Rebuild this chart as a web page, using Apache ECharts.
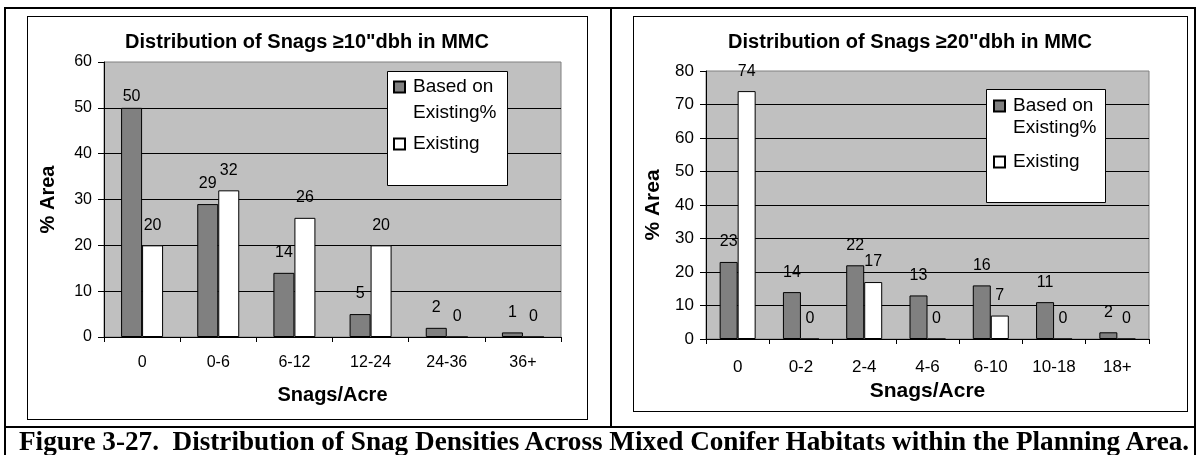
<!DOCTYPE html>
<html>
<head>
<meta charset="utf-8">
<script src="https://cdn.jsdelivr.net/npm/echarts@6/dist/echarts.min.js"></script>
<style>
  html, body { margin: 0; padding: 0; background: #fff; }
  body { width: 1198px; height: 455px; position: relative; overflow: hidden; }
  .ln { position: absolute; background: #000; }
  .frame { position: absolute; box-sizing: border-box; border: 1px solid #000; background: #fff; }
  #chart { position: absolute; left: 0; top: 0; width: 1198px; height: 455px; }
  #caption { position: absolute; left: 19px; top: 428px; font: bold 27.2px/27px "Liberation Serif", "Times New Roman", serif; white-space: nowrap; color: #000; }
</style>
</head>
<body>
<div class="ln" style="left:4px;top:7px;width:1192px;height:2px"></div>
<div class="ln" style="left:4px;top:7px;width:2px;height:448px"></div>
<div class="ln" style="left:1194px;top:7px;width:2px;height:448px"></div>
<div class="ln" style="left:610px;top:7px;width:2px;height:421px"></div>
<div class="ln" style="left:4px;top:426px;width:1192px;height:2px"></div>
<div class="frame" style="left:27px;top:16px;width:561px;height:404px"></div>
<div class="frame" style="left:633px;top:16px;width:555px;height:396px"></div>
<div id="chart"></div>
<div id="caption">Figure 3-27.&nbsp; Distribution of Snag Densities Across Mixed Conifer Habitats within the Planning Area.</div>
<script>
// ---- data ----
const titles = ['Distribution of Snags \u226510"dbh in MMC', 'Distribution of Snags \u226520"dbh in MMC'];
const seriesNames = ['Based on Existing%', 'Existing'];
const cats1 = ['0', '0-6', '6-12', '12-24', '24-36', '36+'];
const based1 = [50, 29, 14, 5, 2, 1];
const exist1 = [20, 32, 26, 20, 0, 0];
const yTicks1 = [0, 10, 20, 30, 40, 50, 60];
const cats2 = ['0', '0-2', '2-4', '4-6', '6-10', '10-18', '18+'];
const based2 = [23, 14, 22, 13, 16, 11, 2];
const exist2 = [74, 0, 17, 0, 7, 0, 0];
const yTicks2 = [0, 10, 20, 30, 40, 50, 60, 70, 80];
const yName = '% Area';
const xName = 'Snags/Acre';

// ---- chart ----
const FF = '"Liberation Sans", Arial, sans-serif';
const chart = echarts.init(document.getElementById('chart'), null, { renderer: 'canvas' });

function yAxis(idx, ticks, nameGap, nameSize) {
  return {
    type: 'value', gridIndex: idx,
    min: ticks[0], max: ticks[ticks.length - 1], interval: ticks[1] - ticks[0],
    axisLine: { show: true, lineStyle: { color: '#000', width: 1 } },
    axisTick: { show: true, length: 6, lineStyle: { color: '#000' } },
    axisLabel: { margin: 12, color: '#000', fontSize: idx === 0 ? 16 : 17, fontFamily: FF },
    splitLine: { show: true, showMaxLine: false, lineStyle: { color: '#000', width: 1 } },
    name: yName, nameLocation: 'middle', nameGap: nameGap,
    nameTextStyle: { color: '#000', fontSize: nameSize, fontWeight: 'bold', fontFamily: FF }
  };
}
function xAxis(idx, cats, margin, nameGap, nameSize) {
  return {
    type: 'category', gridIndex: idx, data: cats,
    axisLine: { show: true, lineStyle: { color: '#000', width: 1 } },
    axisTick: { show: true, length: 5, alignWithLabel: false, lineStyle: { color: '#000' } },
    axisLabel: { margin: margin, color: '#000', fontSize: idx === 0 ? 16 : 17, fontFamily: FF, interval: 0 },
    name: xName, nameLocation: 'middle', nameGap: nameGap,
    nameTextStyle: { color: '#000', fontSize: nameSize, fontWeight: 'bold', fontFamily: FF }
  };
}
function barSeries(name, data, idx, color, width, firstDist) {
  return {
    name: name, type: 'bar', xAxisIndex: idx, yAxisIndex: idx,
    data: data.map((v, i) => (firstDist != null && i === 0) ? { value: v, label: { distance: firstDist } } : v),
    barWidth: width, barGap: '0%',
    itemStyle: { color: color, borderColor: '#000', borderWidth: 1 },
    label: { show: true, position: 'top', distance: 12, color: '#000', fontSize: 16, fontFamily: FF },
    animation: false
  };
}
function legend(left, top, lineH, gap) {
  return {
    orient: 'vertical', left: left, top: top, padding: 0, itemGap: gap,
    itemWidth: 11, itemHeight: 11, icon: 'rect', selectedMode: false,
    formatter: n => n === seriesNames[0] ? '\u00a0\nBased on\nExisting%' : n,
    textStyle: { color: '#000', fontSize: 19, fontFamily: FF, lineHeight: lineH, padding: [0, 0, 0, 3] },
    data: seriesNames
  };
}

const option = {
  animation: false,
  title: [
    { text: titles[0], left: 307, top: 32, padding: 0, textAlign: 'center',
      textStyle: { color: '#000', fontSize: 20, fontWeight: 'bold', fontFamily: FF } },
    { text: titles[1], left: 910, top: 32, padding: 0, textAlign: 'center',
      textStyle: { color: '#000', fontSize: 20, fontWeight: 'bold', fontFamily: FF } }
  ],
  grid: [
    { left: 104, top: 62, width: 457, height: 275, show: true, backgroundColor: '#C0C0C0', borderColor: '#808080', borderWidth: 1 },
    { left: 706, top: 71, width: 443, height: 268, show: true, backgroundColor: '#C0C0C0', borderColor: '#808080', borderWidth: 1 }
  ],
  xAxis: [xAxis(0, cats1, 18, 48, 20), xAxis(1, cats2, 20, 40, 21)],
  yAxis: [yAxis(0, yTicks1, 46, 20), yAxis(1, yTicks2, 42, 21)],
  legend: [legend(393, 48, 26, 5), legend(993, 73, 22, 12)],
  graphic: {
    elements: [
      { type: 'rect', z: 3, shape: { x: 387.5, y: 71.5, width: 120, height: 114 }, style: { fill: '#fff', stroke: '#000', lineWidth: 1 } },
      { type: 'rect', z: 3, shape: { x: 986.5, y: 89.5, width: 119, height: 113 }, style: { fill: '#fff', stroke: '#000', lineWidth: 1 } }
    ]
  },
  series: [
    barSeries(seriesNames[0], based1, 0, '#808080', 21, 3),
    barSeries(seriesNames[1], exist1, 0, '#FFFFFF', 21),
    barSeries(seriesNames[0], based2, 1, '#808080', 18),
    barSeries(seriesNames[1], exist2, 1, '#FFFFFF', 18)
  ]
};
chart.setOption(option);
</script>
</body>
</html>
